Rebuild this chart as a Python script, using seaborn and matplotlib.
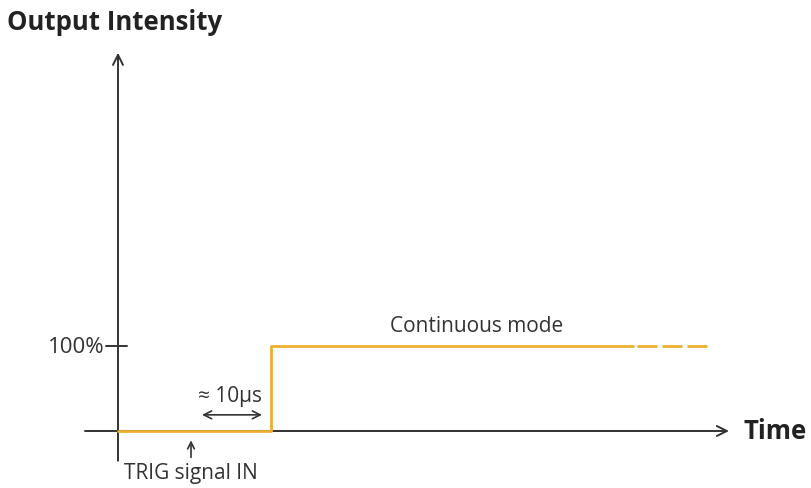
import numpy as np
import pandas as pd
import seaborn as sns
import matplotlib.pyplot as plt

# signal values (time in arbitrary px-like units, level in %)
signal_time = [0, 153, 153, 515]
signal_level = [0, 0, 100, 100]
tail_time = [519, 589]
tail_level = [100, 100]
delay_start = 84
delay_end = 144
trig_time = 73
tick_labels = ["100%"]
tick_values = [100]

sns.set_theme(style="white")
plt.rcParams['font.family'] = ['Open Sans', 'DejaVu Sans']

line_color = "#EBB12E"
axis_color = "#333333"

fig = plt.figure(figsize=(8.11, 4.89), dpi=100)
ax = fig.add_axes([0, 0, 1, 1])
ax.set_xlim(-118, 693)
ax.set_ylim(-67.06, 508.24)
ax.axis("off")

# axes with arrows
ax.annotate("", xy=(611, 0), xytext=(-33, 0),
            arrowprops=dict(arrowstyle="->", color=axis_color, lw=1.4,
                            mutation_scale=18, shrinkA=0, shrinkB=0))
ax.annotate("", xy=(0, 445), xytext=(0, -35),
            arrowprops=dict(arrowstyle="->", color=axis_color, lw=1.4,
                            mutation_scale=18, shrinkA=0, shrinkB=0))

# tick
for v, lab in zip(tick_values, tick_labels):
    ax.plot([-12, 9], [v, v], color=axis_color, lw=1.4)
    ax.text(-13, v, lab, ha="right", va="center", fontsize=16, color=axis_color)

sig = pd.DataFrame({"t": signal_time, "level": signal_level})
sns.lineplot(data=sig, x="t", y="level", color=line_color, lw=2, sort=False,
             estimator=None, errorbar=None, ax=ax, zorder=3)
ax.plot(tail_time, tail_level, color=line_color, lw=2, zorder=3,
        linestyle=(0, (7.2, 1.8)))

ax.text(-3, 482, "Output Intensity", ha="center", va="center", fontsize=18.5,
        fontweight="bold", color="#222222")
ax.text(626, 0, "Time", ha="left", va="center", fontsize=18.5,
        fontweight="bold", color="#222222")
ax.text(358.5, 124, "Continuous mode", ha="center", va="center", fontsize=15,
        color=axis_color)

# delay annotation
ax.annotate("", xy=(delay_end, 19), xytext=(delay_start, 19),
            arrowprops=dict(arrowstyle="<->", color=axis_color, lw=1.2,
                            mutation_scale=14, shrinkA=0, shrinkB=0))
ax.text((delay_start + delay_end) / 2 - 2, 42, "≈ 10µs", ha="center", va="center",
        fontsize=15, color=axis_color)

# trigger arrow
ax.annotate("", xy=(trig_time, -11), xytext=(trig_time, -31),
            arrowprops=dict(arrowstyle="->", color=axis_color, lw=1.2,
                            mutation_scale=12, shrinkA=0, shrinkB=0))
ax.text(trig_time, -49, "TRIG signal IN", ha="center", va="center",
        fontsize=15, color=axis_color)

fig.savefig("out.png", dpi=100)
